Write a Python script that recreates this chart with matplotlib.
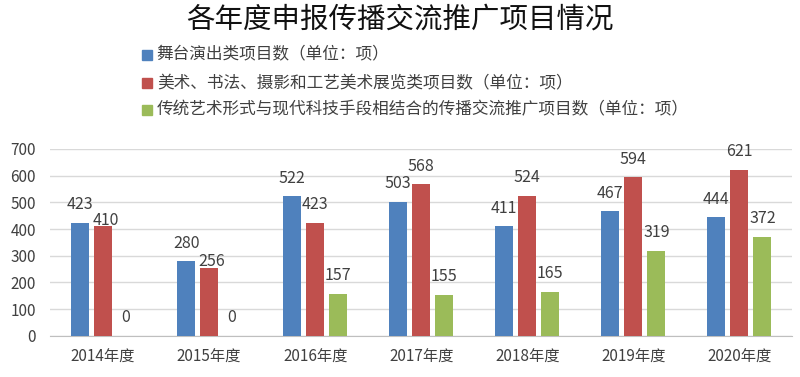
import numpy as np
import matplotlib
matplotlib.use('Agg')
import matplotlib.pyplot as plt
from matplotlib.patches import Rectangle

plt.rcParams['font.family'] = ['Noto Sans CJK SC', 'DejaVu Sans']

# 数据
years = ['2014年度', '2015年度', '2016年度', '2017年度', '2018年度', '2019年度', '2020年度']
stage = [423, 280, 522, 503, 411, 467, 444]
art = [410, 256, 423, 568, 524, 594, 621]
tech = [0, 0, 157, 155, 165, 319, 372]
series_names = ['舞台演出类项目数（单位：项）',
                '美术、书法、摄影和工艺美术展览类项目数（单位：项）',
                '传统艺术形式与现代科技手段相结合的传播交流推广项目数（单位：项）']
colors = ['#4F81BD', '#C0504D', '#9BBB59']

fig = plt.figure(figsize=(8, 3.77), dpi=100)
ax = fig.add_axes([0.0625, 0.109, 0.928, 0.496])

x = np.arange(len(years))
w = 0.17
step = 0.217
all_vals = [stage, art, tech]
for i, vals in enumerate(all_vals):
    pos = x + (i - 1) * step
    ax.bar(pos, vals, width=w, color=colors[i], zorder=3)
    for j, (p, v) in enumerate(zip(pos, vals)):
        dy, dx = 13, 0
        # 与左侧标签高度接近时下移，避免重叠
        if i == 1 and abs(stage[j] - v) < 30:
            dy, dx = 4, 2
        ax.annotate(str(v), (p, v), xytext=(dx, dy), textcoords='offset points',
                    ha='center', va='center', fontsize=11.5, color='#404040')

ax.set_ylim(0, 700)
ax.set_xlim(-0.5, len(years) - 0.5)
ax.set_yticks(range(0, 701, 100))
ax.set_xticks(x)
ax.set_xticklabels(years)
ax.tick_params(axis='both', length=0, labelsize=11, colors='#404040')
ax.tick_params(axis='x', pad=9)
ax.tick_params(axis='y', pad=10)
ax.grid(axis='y', color='#D9D9D9', linewidth=1, zorder=0)
for s in ['top', 'right', 'left']:
    ax.spines[s].set_visible(False)
ax.spines['bottom'].set_color('#BFBFBF')

# 标题
fig.text(0.5, 0.948, '各年度申报传播交流推广项目情况', ha='center', va='center', fontsize=20.5, color='#111111')

# 图例
leg_y = [0.855, 0.779, 0.709]
for name, c, yy in zip(series_names, colors, leg_y):
    fig.patches.append(Rectangle((0.178, yy - 0.013), 0.012, 0.026, transform=fig.transFigure,
                                 color=c, figure=fig))
    fig.text(0.196, yy, name, ha='left', va='center', fontsize=12, color='#404040')

plt.savefig('out.png', dpi=100)
